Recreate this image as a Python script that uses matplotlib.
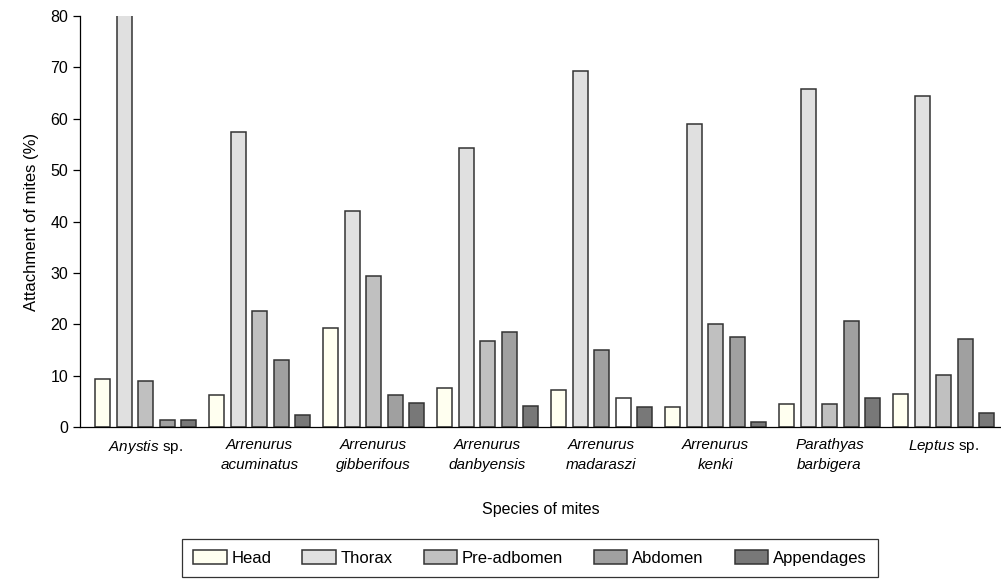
import numpy as np
import matplotlib
matplotlib.use('Agg')
import matplotlib.pyplot as plt

plt.rcParams['font.family'] = ['Liberation Sans', 'DejaVu Sans']
plt.rcParams['mathtext.fontset'] = 'custom'
plt.rcParams['mathtext.rm'] = 'Liberation Sans'
plt.rcParams['mathtext.it'] = 'Liberation Sans:italic'

species = [r'$\mathit{Anystis}$ sp.',
           'Arrenurus\nacuminatus',
           'Arrenurus\ngibberifous',
           'Arrenurus\ndanbyensis',
           'Arrenurus\nmadaraszi',
           'Arrenurus\nkenki',
           'Parathyas\nbarbigera',
           r'$\mathit{Leptus}$ sp.']
parts = ['Head', 'Thorax', 'Pre-adbomen', 'Abdomen', 'Appendages']

head = [9.3, 6.2, 19.3, 7.6, 7.2, 3.8, 4.5, 6.5]
thorax = [80.2, 57.5, 42.0, 54.4, 69.3, 59.0, 65.8, 64.5]
pre_abdomen = [9.0, 22.5, 29.3, 16.8, 15.0, 20.0, 4.5, 10.1]
abdomen = [1.3, 13.0, 6.2, 18.5, 5.7, 17.5, 20.6, 17.1]
appendages = [1.3, 2.3, 4.6, 4.0, 3.8, 0.9, 5.7, 2.8]

values = [head, thorax, pre_abdomen, abdomen, appendages]
colors = ['#fffff0', '#e0e0e0', '#c0c0c0', '#a0a0a0', '#787878']

fig = plt.figure(figsize=(10.01, 5.81), dpi=100)
ax = fig.add_axes([80 / 1001, 1 - 427 / 581, 921 / 1001, 411 / 581])

x = np.arange(len(species))
step = 21.5 / 114
width = 15 / 114
for j, (vals, name) in enumerate(zip(values, parts)):
    cols = [colors[j]] * len(vals)
    # the source figure shades madaraszi's pre-abdomen and abdomen bars differently
    if j == 2:
        cols[4] = colors[3]
    if j == 3:
        cols[4] = '#ffffff'
    ax.bar(x + (j - 2) * step, vals, width, color=cols, edgecolor='#333333',
           linewidth=1.1, label=name)

ax.set_xlim((80 - 145.5) / 114, (1001 - 145.5) / 114)
ax.set_ylim(0, 80)
ax.set_yticks(range(0, 81, 10))
ax.set_xticks(x)
ax.set_xticklabels(species, fontsize=11, linespacing=1.5)
for t in ax.get_xticklabels():
    if '$' not in t.get_text():
        t.set_fontstyle('italic')
ax.tick_params(axis='x', length=0, pad=8)
ax.tick_params(axis='y', labelsize=11.5, length=5, width=0.9, direction='out')
for s in ['top', 'right']:
    ax.spines[s].set_visible(False)
ax.spines['left'].set_linewidth(0.9)
ax.spines['bottom'].set_linewidth(0.9)

ax.set_ylabel('Attachment of mites (%)', fontsize=12, labelpad=8)
ax.set_xlabel('Species of mites', fontsize=11.5, labelpad=22)

leg = fig.legend(loc='center', bbox_to_anchor=(530 / 1001, 1 - 558 / 581), ncol=5,
                 fontsize=12, frameon=True, fancybox=False, edgecolor='black',
                 handlelength=2.0, handleheight=0.9, handletextpad=0.3,
                 columnspacing=1.85, borderpad=0.65)
leg.get_frame().set_linewidth(0.9)

fig.savefig('out.png', dpi=100)
